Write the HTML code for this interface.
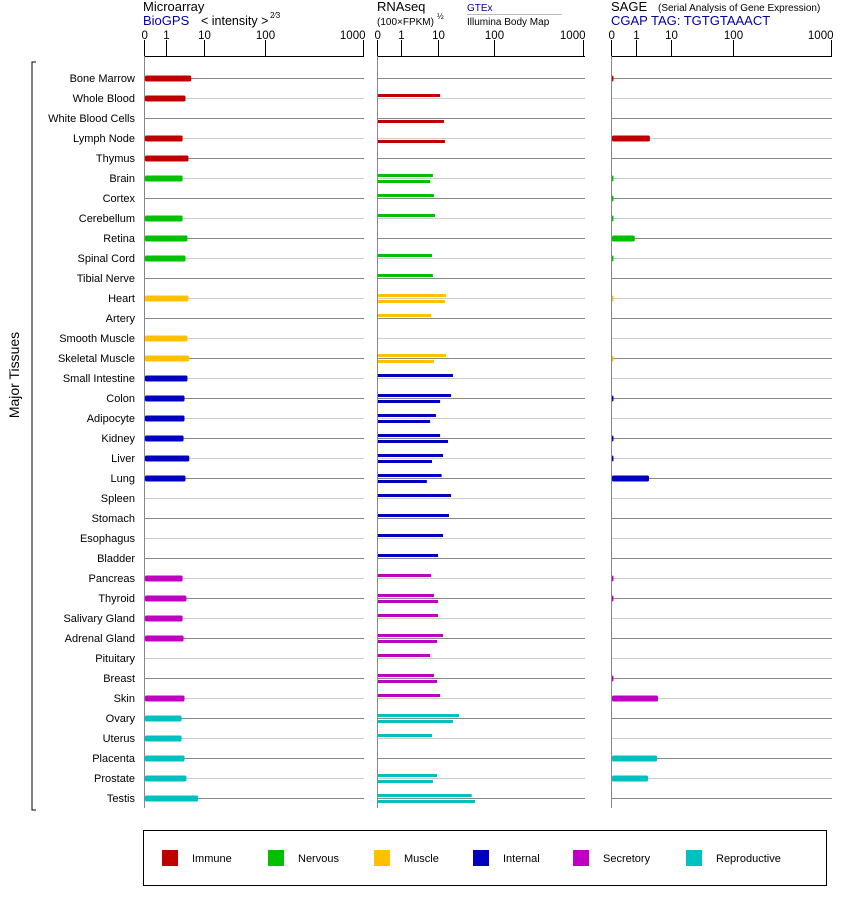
<!DOCTYPE html>
<html><head><meta charset="utf-8"><style>
html,body{margin:0;padding:0;background:#fff;}
svg{display:block;font-family:"Liberation Sans",sans-serif;}
</style></head><body>
<svg id="chart" width="842" height="900" viewBox="0 0 842 900" xmlns="http://www.w3.org/2000/svg">
<g>
<text x="143" y="11" font-size="13">Microarray</text>
<text x="143" y="25" font-size="13" fill="#0000a0">BioGPS</text>
<text x="201" y="25" font-size="12.5">&lt; intensity &gt;</text>
<text x="270" y="18" font-size="8">2⁄3</text>
</g>
<g>
<text x="377" y="11" font-size="13">RNAseq</text>
<text x="377" y="25" font-size="10">(100×FPKM)</text>
<text x="437" y="19" font-size="8">½</text>
<text x="467" y="11" font-size="10" fill="#0000a0">GTEx</text>
<line x1="467" y1="14.5" x2="562" y2="14.5" stroke="#bbb"/>
<text x="467" y="25" font-size="10">Illumina Body Map</text>
</g>
<g>
<text x="611" y="11" font-size="13">SAGE</text>
<text x="658" y="11" font-size="10">(Serial Analysis of Gene Expression)</text>
<text x="611" y="25" font-size="13" fill="#0000a0">CGAP TAG: TGTGTAAACT</text>
</g>
<g id="plot"></g>
<g>
<path d="M36 62 H32 V810 H36" fill="none" stroke="#000" stroke-width="1"/>
<text transform="translate(19,375) rotate(-90)" text-anchor="middle" font-size="14">Major Tissues</text>
</g>
<g>
<rect x="143.5" y="830.5" width="683" height="55" fill="none" stroke="#000"/>
<g id="legend-items"></g>
</g>
</svg>
<script>
const tissues=["Bone Marrow","Whole Blood","White Blood Cells","Lymph Node","Thymus","Brain","Cortex","Cerebellum","Retina","Spinal Cord","Tibial Nerve","Heart","Artery","Smooth Muscle","Skeletal Muscle","Small Intestine","Colon","Adipocyte","Kidney","Liver","Lung","Spleen","Stomach","Esophagus","Bladder","Pancreas","Thyroid","Salivary Gland","Adrenal Gland","Pituitary","Breast","Skin","Ovary","Uterus","Placenta","Prostate","Testis"];
const groups=[0,0,0,0,0,1,1,1,1,1,1,2,2,2,2,3,3,3,3,3,3,3,3,3,3,4,4,4,4,4,4,4,5,5,5,5,5];
const groupNames=["Immune","Nervous","Muscle","Internal","Secretory","Reproductive"];
const groupColors=["#c00000","#00c000","#ffc000","#0000c0","#c000c0","#00c0c0"];
const tickLabels=["0","1","10","100","1000"];
const tickValues=[0,1,10,100,1000];
const microarray=[4.6,3.26,null,2.73,3.9,2.73,null,2.73,3.67,3.26,null,3.9,null,3.67,4.1,3.67,3.07,3.07,2.9,4.1,3.26,null,null,null,null,2.73,3.45,2.73,2.9,null,null,3.07,2.57,2.57,3.07,3.45,7.0];
const gtex=[null,10.9,null,null,null,7.3,7.8,8.3,null,6.9,7.3,13.9,6.5,null,13.9,18.5,17.1,8.8,10.9,12.3,11.6,17.1,15.7,12.3,10,6.5,7.8,10,12.3,6.1,7.8,10.9,23.7,6.9,null,9.4,40];
const illumina=[null,null,12.8,13.3,null,6.1,null,null,null,null,null,13.3,null,null,7.8,null,10.9,6.1,15.1,6.9,5.0,null,null,null,null,null,10,null,9.4,null,9.4,null,18.5,null,null,7.3,45.8];
const sage=[0.05,null,null,2.5,null,0.05,0.05,0.05,0.95,0.05,null,0.03,null,null,0.03,null,0.05,null,0.05,0.05,2.35,null,null,null,null,0.05,0.05,null,null,null,0.05,4.25,null,null,4.0,2.2,null];

const NS="http://www.w3.org/2000/svg";
function mk(tag,attrs,parent){const e=document.createElementNS(NS,tag);for(const k in attrs)e.setAttribute(k,attrs[k]);parent.appendChild(e);return e;}
function makeScale(px){return function(v){if(v<=0)return px[0];if(v<=1)return px[0]+(px[1]-px[0])*v;
 const l=Math.log10(v);const i=Math.min(Math.floor(l),2);return px[i+1]+(px[i+2]-px[i+1])*(l-i);};}
const panels=[
 {name:"microarray",px:[144,166,204,265,363],end:364},
 {name:"rnaseq",px:[377,401,438,494,583],end:585},
 {name:"sage",px:[611,636,671,733,831],end:832}];
const plot=document.getElementById('plot');
const AX=56,ROW0=78,STEP=20;
const rowY=i=>ROW0+i*STEP;
tissues.forEach((t,i)=>{const e=mk('text',{x:135,y:rowY(i)+4,'text-anchor':'end','font-size':'11'},plot);e.textContent=t;

});
panels.forEach(p=>{
 const s=makeScale(p.px);p.s=s;
 const g=mk('g',{},plot);
 
 
 tissues.forEach((t,i)=>{const l=mk('line',{x1:p.px[0],x2:p.end,y1:rowY(i)+0.5,y2:rowY(i)+0.5,stroke:i%2==0?'#888':'#ccc'},g);
  
  });
 const ax=mk('line',{x1:p.px[0],x2:p.end,y1:AX+0.5,y2:AX+0.5,stroke:'#000'},g);
 
 
 const vl=mk('line',{x1:p.px[0]+0.5,x2:p.px[0]+0.5,y1:AX,y2:808,stroke:'#888'},g);
 
 
 tickValues.forEach((v,k)=>{const x=Math.round(s(v))+0.5;
  const tk=mk('line',{x1:x,x2:x,y1:AX-16,y2:AX,stroke:'#000'},g);
  
  
  const tx=mk('text',{x:k==4?x+2:x,y:39,'text-anchor':k==0?'start':(k==4?'end':'middle'),'font-size':'11.5'},g);tx.textContent=tickLabels[k];
  if(k==0)tx.setAttribute('x',x-3);
  
  });
});
function bar(p,v,i,y,h,name){if(v==null)return;const x0=p.px[0]+1;const w=Math.max(1.5,p.s(v)-x0);
 const r=mk('rect',{x:x0,y:y,width:w,height:h,fill:groupColors[groups[i]],rx:h>4?1.5:0},plot);
 
 }
tissues.forEach((t,i)=>{const c=rowY(i);
 bar(panels[0],microarray[i],i,c-2.5,6,'microarray-bar');
 bar(panels[1],gtex[i],i,c-4,3,'gtex-bar');
 bar(panels[1],illumina[i],i,c+2,3,'illumina-bar');
 bar(panels[2],sage[i],i,c-2.5,6,'sage-bar');});
const lg=document.getElementById('legend-items');
const lx=[162,268,374,473,573,686];
groupNames.forEach((n,k)=>{const r=mk('rect',{x:lx[k],y:850,width:16,height:16,fill:groupColors[k]},lg);
 
 
 const t=mk('text',{x:lx[k]+30,y:862,'font-size':'11'},lg);t.textContent=n;
 
 });
</script>
</body></html>
